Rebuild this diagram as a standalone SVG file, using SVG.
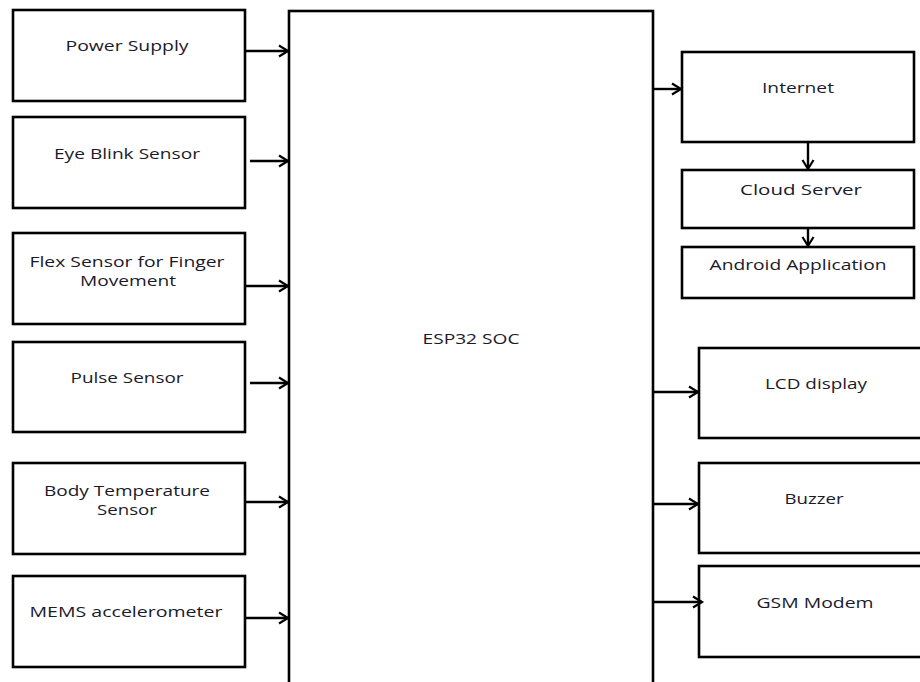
<svg xmlns="http://www.w3.org/2000/svg" width="920" height="682" viewBox="0 0 920 682">
<defs>
<marker id="arr" markerUnits="userSpaceOnUse" markerWidth="14" markerHeight="14" refX="11" refY="7" orient="auto">
<path d="M2,1.5 L11,7 L2,12.5" fill="none" stroke="#000" stroke-width="2.2"/>
</marker>
<style>
.box{fill:#fff;stroke:#000;stroke-width:2.6}
.t{font-family:"Open Sans","Liberation Sans",sans-serif;font-size:14px;fill:#1a1a2a;text-anchor:middle}
.c{stroke:#000;stroke-width:2.4;fill:none;marker-end:url(#arr)}
</style>
</defs>
<rect width="920" height="682" fill="#fff"/>
<g id="esp32">
<rect class="box" x="289" y="11" width="364" height="690"/>
<text class="t" x="471" y="344" textLength="97" lengthAdjust="spacingAndGlyphs">ESP32 SOC</text>
</g>
<g id="power">
<rect class="box" x="13" y="10" width="232" height="91"/>
<text class="t" x="127" y="51" textLength="123" lengthAdjust="spacingAndGlyphs">Power Supply</text>
</g>
<g id="eyeblink">
<rect class="box" x="13" y="117" width="232" height="91"/>
<text class="t" x="127" y="159" textLength="146" lengthAdjust="spacingAndGlyphs">Eye Blink Sensor</text>
</g>
<g id="flex">
<rect class="box" x="13" y="233" width="232" height="91"/>
<text class="t" x="127" y="267" textLength="195" lengthAdjust="spacingAndGlyphs">Flex Sensor for Finger</text>
<text class="t" x="128" y="286" textLength="96" lengthAdjust="spacingAndGlyphs">Movement</text>
</g>
<g id="pulse">
<rect class="box" x="13" y="342" width="232" height="90"/>
<text class="t" x="127" y="383" textLength="113" lengthAdjust="spacingAndGlyphs">Pulse Sensor</text>
</g>
<g id="bodytemp">
<rect class="box" x="13" y="463" width="232" height="91"/>
<text class="t" x="127" y="496" textLength="166" lengthAdjust="spacingAndGlyphs">Body Temperature</text>
<text class="t" x="127" y="515" textLength="60" lengthAdjust="spacingAndGlyphs">Sensor</text>
</g>
<g id="mems">
<rect class="box" x="13" y="576" width="232" height="91"/>
<text class="t" x="126" y="617" textLength="193" lengthAdjust="spacingAndGlyphs">MEMS accelerometer</text>
</g>
<g id="internet">
<rect class="box" x="682" y="52" width="232" height="90"/>
<text class="t" x="798" y="93" textLength="72" lengthAdjust="spacingAndGlyphs">Internet</text>
</g>
<g id="cloud">
<rect class="box" x="682" y="170" width="232" height="58"/>
<text class="t" x="801" y="195" textLength="122" lengthAdjust="spacingAndGlyphs">Cloud Server</text>
</g>
<g id="android">
<rect class="box" x="682" y="247" width="232" height="51"/>
<text class="t" x="798" y="270" textLength="177" lengthAdjust="spacingAndGlyphs">Android Application</text>
</g>
<g id="lcd">
<rect class="box" x="699" y="348" width="240" height="90"/>
<text class="t" x="816" y="389" textLength="102" lengthAdjust="spacingAndGlyphs">LCD display</text>
</g>
<g id="buzzer">
<rect class="box" x="699" y="463" width="240" height="90"/>
<text class="t" x="814" y="504" textLength="59" lengthAdjust="spacingAndGlyphs">Buzzer</text>
</g>
<g id="gsm">
<rect class="box" x="699" y="566" width="240" height="91"/>
<text class="t" x="815" y="608" textLength="117" lengthAdjust="spacingAndGlyphs">GSM Modem</text>
</g>
<g id="connectors">
<line class="c" x1="245" y1="51" x2="288" y2="51"/>
<line class="c" x1="250" y1="161" x2="288" y2="161"/>
<line class="c" x1="245" y1="286" x2="288" y2="286"/>
<line class="c" x1="250" y1="383" x2="288" y2="383"/>
<line class="c" x1="245" y1="502" x2="288" y2="502"/>
<line class="c" x1="245" y1="618" x2="288" y2="618"/>
<line class="c" x1="653" y1="89" x2="681" y2="89"/>
<line class="c" x1="808" y1="142" x2="808" y2="169"/>
<line class="c" x1="808" y1="228" x2="808" y2="246"/>
<line class="c" x1="653" y1="392" x2="698" y2="392"/>
<line class="c" x1="653" y1="504" x2="698" y2="504"/>
<line class="c" x1="653" y1="602" x2="702" y2="602"/>
</g>
</svg>
